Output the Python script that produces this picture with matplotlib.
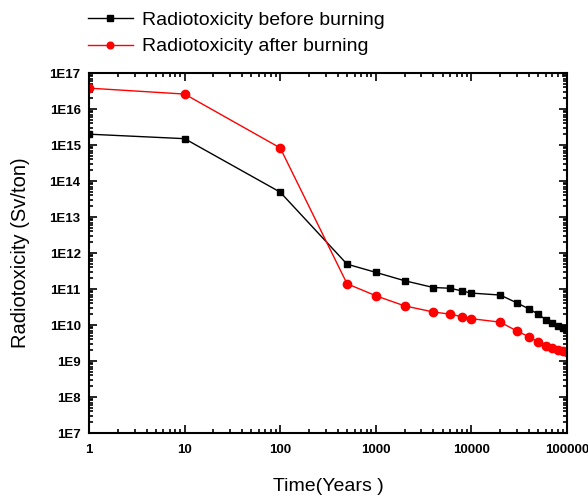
import math
import matplotlib
matplotlib.use("Agg")
import matplotlib.pyplot as plt
from matplotlib.ticker import LogLocator, FixedLocator, FuncFormatter, NullFormatter

plt.rcParams['font.family'] = ['Liberation Sans', 'DejaVu Sans']

# Time after discharge (years)
years = [1, 10, 100, 500, 1000, 2000, 4000, 6000, 8000, 10000, 20000,
         30000, 40000, 50000, 60000, 70000, 80000, 90000, 100000]

# Radiotoxicity (Sv/ton)
before_burning = [2.0e15, 1.5e15, 4.9e13, 4.9e11, 2.9e11, 1.7e11, 1.1e11, 1.05e11,
                  8.8e10, 7.7e10, 6.8e10, 4.1e10, 2.8e10, 2.0e10, 1.4e10, 1.14e10,
                  9.4e9, 8.3e9, 7.2e9]
after_burning = [3.8e16, 2.6e16, 8.3e14, 1.4e11, 6.5e10, 3.4e10, 2.3e10, 2.0e10,
                 1.7e10, 1.5e10, 1.2e10, 6.8e9, 4.7e9, 3.4e9, 2.6e9, 2.3e9,
                 2.0e9, 1.9e9, 1.8e9]

x_ticks = [1, 10, 100, 1000, 10000, 100000]
x_tick_labels = ["1", "10", "100", "1000", "10000", "100000"]
y_exponents = list(range(7, 18))

fig = plt.figure(figsize=(5.88, 4.96), dpi=100)
ax = fig.add_axes([0.1514, 0.1270, 0.8129, 0.7258])

ax.plot(years, before_burning, color="black", lw=1.0, marker="s", ms=5,
        label="Radiotoxicity before burning")
ax.plot(years, after_burning, color="#ff0000", lw=1.0, marker="o", ms=6,
        label="Radiotoxicity after burning")

ax.set_xscale("log")
ax.set_yscale("log")
ax.set_xlim(1, 1e5)
ax.set_ylim(1e7, 1e17)

ax.xaxis.set_major_locator(FixedLocator(x_ticks))
ax.set_xticklabels(x_tick_labels)
ax.xaxis.set_minor_locator(LogLocator(base=10, subs=range(2, 10), numticks=20))
ax.xaxis.set_minor_formatter(NullFormatter())

ax.yaxis.set_major_locator(FixedLocator([10.0 ** e for e in y_exponents]))
ax.yaxis.set_major_formatter(FuncFormatter(lambda v, p: "1E%d" % round(math.log10(v))))
ax.yaxis.set_minor_locator(LogLocator(base=10, subs=range(2, 10), numticks=20))
ax.yaxis.set_minor_formatter(NullFormatter())

ax.tick_params(which="both", direction="in", top=True, right=True, width=1.2)
ax.tick_params(which="major", length=6, labelsize=9.5)
ax.tick_params(axis="x", which="major", pad=8)
ax.tick_params(axis="y", which="major", pad=6)
ax.tick_params(which="minor", length=3)
for lab in ax.get_xticklabels() + ax.get_yticklabels():
    lab.set_fontweight("bold")

for sp in ax.spines.values():
    sp.set_linewidth(1.5)

ax.set_xlabel("Time(Years )", fontsize=14, labelpad=16)
ax.set_ylabel("Radiotoxicity (Sv/ton)", fontsize=14.5, labelpad=14)

fig.legend(loc="upper left", bbox_to_anchor=(0.1497, 0.977), frameon=False,
           fontsize=14, handlelength=2.3, handletextpad=0.5, labelspacing=0.45,
           borderpad=0, borderaxespad=0, markerscale=0.8)

fig.savefig("out.png", dpi=100)
